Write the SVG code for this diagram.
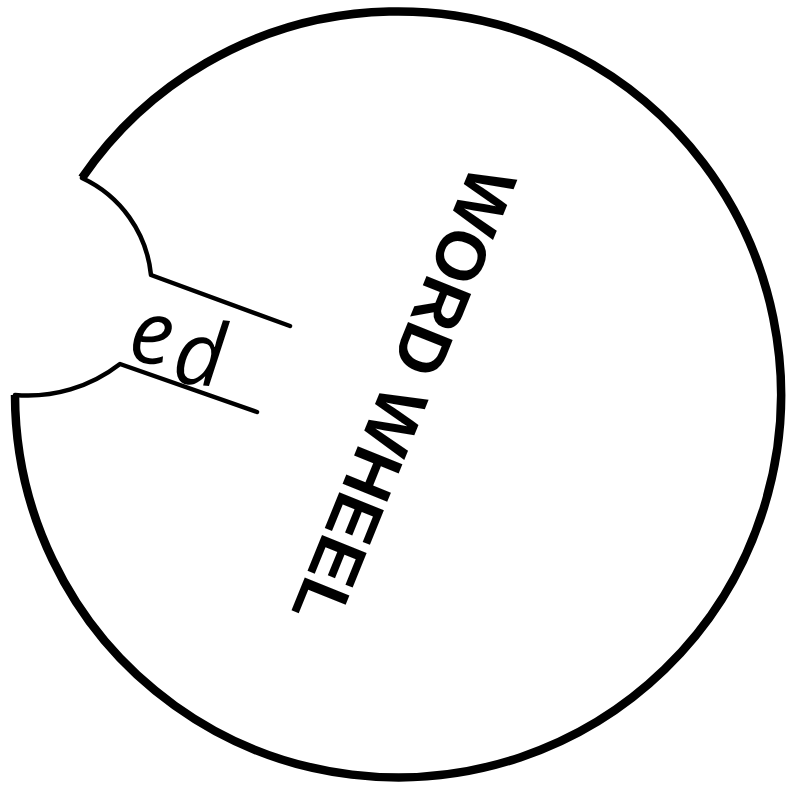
<svg xmlns="http://www.w3.org/2000/svg" width="793" height="792" viewBox="0 0 793 792">
<style>
.rim{fill:none;stroke:#000;stroke-width:8.5;stroke-linejoin:miter}
.notch{fill:none;stroke:#000;stroke-width:4.5;stroke-linecap:round;stroke-linejoin:round}
.title{font-family:"Liberation Sans","DejaVu Sans",sans-serif;font-weight:bold;font-size:70px;fill:#000}
.suffix{font-family:"Open Sans","Noto Sans",sans-serif;font-style:italic;font-weight:400;font-size:88px;fill:#000}
</style>
<rect width="793" height="792" fill="#fff"/>
<g id="wheel">
<path class="rim" d="M15,395 A383,383 0 1 0 82,178"/>
<path class="notch" d="M82,178 A120,120 0 0 1 151,275 L290,326"/>
<path class="notch" d="M15,395 A150,150 0 0 0 120,364 L257,412"/>
</g>
<g id="title">
<text class="title" x="0" y="0" text-anchor="middle" dominant-baseline="central" textLength="486" lengthAdjust="spacingAndGlyphs" transform="translate(404,396) rotate(112)">WORD WHEEL</text>
</g>
<g id="suffix">
<text class="suffix" x="127 171" y="361 382" rotate="6 6">ed</text>
</g>
</svg>
